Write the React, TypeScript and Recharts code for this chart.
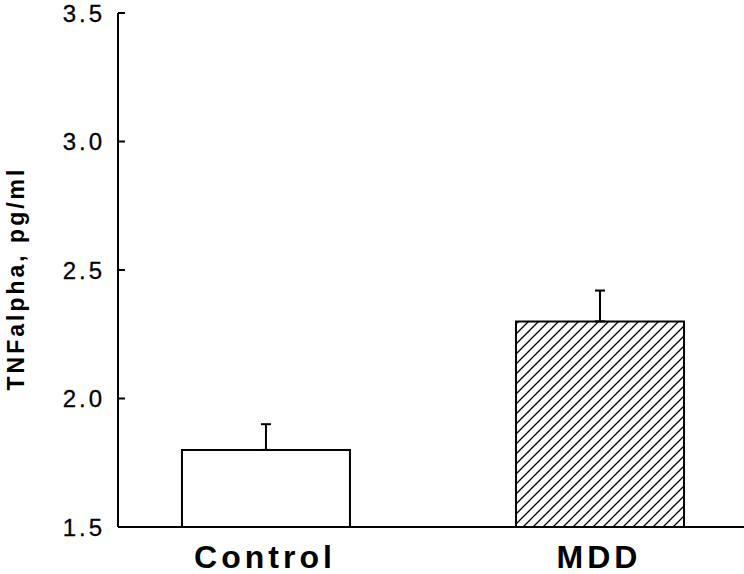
import React from 'react';
import { BarChart, Bar, XAxis, YAxis, ErrorBar, Cell } from 'recharts';

const categories = ['Control', 'MDD'];
const means = [1.8, 2.3];
const sems = [0.1, 0.12];
const yTicks = [1.5, 2.0, 2.5, 3.0, 3.5];
const xPositions = [1, 2];
const fills = ['#ffffff', 'url(#hatch)'];
const yLabel = 'TNFalpha, pg/ml';

const data = categories.map((name, i) => ({
  pos: xPositions[i],
  name,
  mean: means[i],
  err: [0, sems[i]],
}));

const AXIS_X = 118;
const FONT = '"Liberation Sans", Arial, sans-serif';

const YTick = (props: any) => {
  const { y, payload } = props;
  return (
    <g>
      <line x1={AXIS_X} x2={AXIS_X + 7} y1={y} y2={y} stroke="#000" strokeWidth={2} />
      <text
        x={105}
        y={y + 8.5}
        textAnchor="end"
        fontFamily={FONT}
        fontSize={24}
        letterSpacing={3}
        stroke="#000"
        strokeWidth={0.3}
        fill="#000"
      >
        {Number(payload.value).toFixed(1)}
      </text>
    </g>
  );
};

const XTick = (props: any) => {
  const { x, payload } = props;
  const label = categories[xPositions.indexOf(payload.value)] ?? '';
  return (
    <text
      x={x - 1}
      y={568}
      textAnchor="middle"
      fontFamily={FONT}
      fontWeight="bold"
      fontSize={32}
      letterSpacing={4}
      fill="#000"
    >
      {label}
    </text>
  );
};

const YLabel = () => (
  <text
    x={24}
    y={280}
    transform="rotate(-90 24 280)"
    dx={1.5}
    textAnchor="middle"
    fontFamily={FONT}
    fontWeight="bold"
    fontSize={23}
    letterSpacing={3}
    fill="#000"
  >
    {yLabel}
  </text>
);

export default function App() {
  return (
    <div style={{ position: 'fixed', left: 0, top: 0, width: 744, height: 574, background: '#fff' }}>
      <BarChart
        width={744}
        height={574}
        data={data}
        margin={{ top: 13, right: 0, bottom: 0, left: 0 }}
      >
        <defs>
          <pattern id="hatch" patternUnits="userSpaceOnUse" width={10} height={10}>
            <rect x={0} y={0} width={10} height={10} fill="#fff" />
            <path d="M-2,2 L2,-2 M0,10 L10,0 M8,12 L12,8" stroke="#000" strokeWidth={1.3} />
          </pattern>
        </defs>
        <XAxis
          type="number"
          dataKey="pos"
          domain={[0.557, 2.431]}
          ticks={xPositions}
          allowDataOverflow
          tickLine={false}
          axisLine={{ stroke: '#000', strokeWidth: 2 }}
          tick={<XTick />}
          height={47}
        />
        <YAxis
          type="number"
          domain={[1.5, 3.5]}
          ticks={yTicks}
          allowDataOverflow
          width={118}
          tickLine={false}
          axisLine={{ stroke: '#000', strokeWidth: 2 }}
          tick={<YTick />}
          label={{ content: () => <YLabel /> }}
        />
        <Bar dataKey="mean" barSize={168} isAnimationActive={false} stroke="#000" strokeWidth={2}>
          {data.map((d, i) => (
            <Cell key={d.name} fill={fills[i]} />
          ))}
          <ErrorBar dataKey="err" width={5} stroke="#000" strokeWidth={2} direction="y" />
        </Bar>
      </BarChart>
    </div>
  );
}
